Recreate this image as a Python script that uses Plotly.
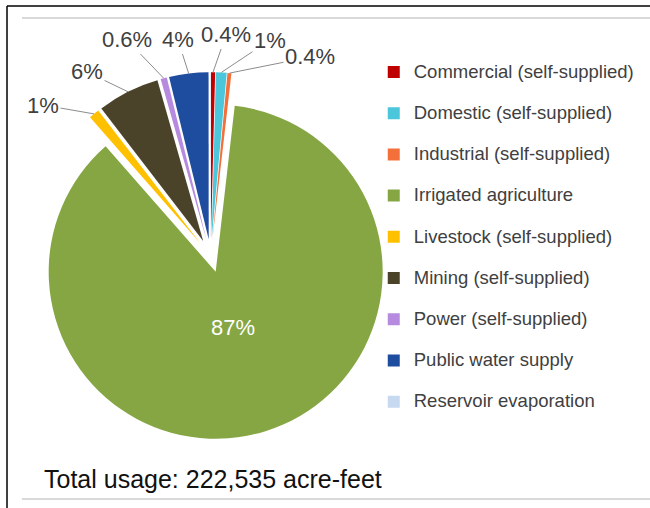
import math
import plotly.graph_objects as go

categories = [
    "Commercial (self-supplied)",
    "Domestic (self-supplied)",
    "Industrial (self-supplied)",
    "Irrigated agriculture",
    "Livestock (self-supplied)",
    "Mining (self-supplied)",
    "Power (self-supplied)",
    "Public water supply",
    "Reservoir evaporation",
]
usage_acre_feet = [900, 2300, 850, 193000, 2250, 13400, 1350, 8450, 35]
pct_labels = ["0.4%", "1%", "0.4%", "87%", "1%", "6%", "0.6%", "4%", ""]
colors = ["#C00000", "#4BC6DA", "#F4703A", "#86A644", "#FFC000",
          "#4A4229", "#B68BDF", "#1E4C9F", "#C6D9F0"]
total_text = "Total usage: 222,535 acre-feet"

# ---- layout / style settings (not data) ----
W, H = 650, 508
PULL = 0.1
DOM_X = [0.0415, 0.6068]
DOM_Y = [0.1348, 0.858]
# label text centres in pixels (None = label drawn inside the slice)
label_xy = [(226, 35), (270, 40), (310, 57), None, (43, 105), (87, 72),
            (127, 40), (178, 40), None]

legend_labels = ['<span style="font-size:18.5px">%s</span><br>' % c for c in categories]

fig = go.Figure(go.Pie(
    labels=legend_labels,
    values=usage_acre_feet,
    textinfo="none",
    marker=dict(colors=colors, line=dict(width=0)),
    pull=[PULL] * len(categories),
    sort=False,
    direction="clockwise",
    rotation=0,
    hole=0,
    automargin=False,
    domain=dict(x=DOM_X, y=DOM_Y),
    showlegend=True,
))

# pie geometry (same rule plotly uses: r = min(rx, ry) / (1 + max pull))
cx = W * (DOM_X[0] + DOM_X[1]) / 2
cy = H * (1 - (DOM_Y[0] + DOM_Y[1]) / 2)
rbox = min(W * (DOM_X[1] - DOM_X[0]), H * (DOM_Y[1] - DOM_Y[0])) / 2
R = rbox / (1 + PULL)

total = sum(usage_acre_feet)
annotations = []
cum = 0.0
for val, lab, xy in zip(usage_acre_feet, pct_labels, label_xy):
    mid = (cum + val / 2) / total * 2 * math.pi
    cum += val
    if not lab:
        continue
    s, c = math.sin(mid), math.cos(mid)
    if xy is None:
        d = 0.45 * R
        px, py = cx + d * s, cy - d * c
        annotations.append(dict(
            text=lab, xref="paper", yref="paper", x=px / W, y=1 - py / H,
            showarrow=False, xanchor="center", yanchor="middle",
            font=dict(size=22, color="white", family="Liberation Sans, Arial")))
    else:
        d = R * (1 + PULL)
        px, py = cx + d * s, cy - d * c
        annotations.append(dict(
            text=lab, xref="paper", yref="paper", x=px / W, y=1 - py / H,
            showarrow=True, arrowhead=0, arrowwidth=1, arrowcolor="#8C8C8C",
            ax=xy[0] - px, ay=xy[1] - py, standoff=0, startstandoff=0,
            font=dict(size=22, color="#404040", family="Liberation Sans, Arial")))

annotations.append(dict(
    text=total_text, xref="paper", yref="paper", x=42 / W, y=1 - 479 / H,
    xanchor="left", yanchor="middle", showarrow=False,
    font=dict(size=25, color="#111111", family="Liberation Sans, Arial")))

fig.update_layout(
    width=W, height=H,
    margin=dict(l=0, r=0, t=0, b=0, autoexpand=False),
    paper_bgcolor="white",
    plot_bgcolor="white",
    font=dict(family="Liberation Sans, Arial", color="#404040"),
    legend=dict(
        x=0.575, xanchor="left",
        y=0.890, yanchor="top",
        font=dict(size=14.7, color="#404040", family="Liberation Sans, Arial"),
        valign="top",
        bgcolor="rgba(0,0,0,0)",
        borderwidth=0,
    ),
    shapes=[
        dict(type="line", xref="paper", yref="paper", x0=7/W, x1=1, y0=1-6/H, y1=1-6/H,
             line=dict(color="black", width=1.5)),
        dict(type="line", xref="paper", yref="paper", x0=7/W, x1=7/W, y0=0, y1=1-6/H,
             line=dict(color="black", width=1.5)),
        dict(type="line", xref="paper", yref="paper", x0=22/W, x1=1, y0=1-18/H, y1=1-18/H,
             line=dict(color="#D9D9D9", width=2)),
        dict(type="line", xref="paper", yref="paper", x0=22/W, x1=1, y0=1-499/H, y1=1-499/H,
             line=dict(color="#D9D9D9", width=2)),
    ],
    annotations=annotations,
)

fig.write_html("out.html")
